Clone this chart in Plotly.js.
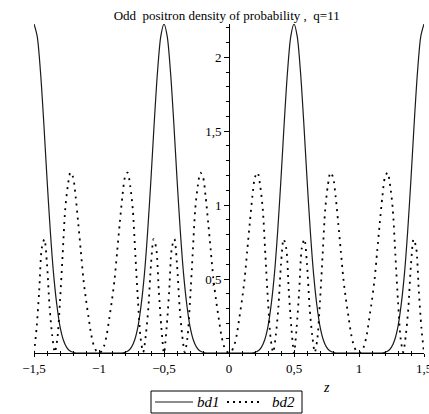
<!DOCTYPE html>
<html>
<head>
<meta charset="utf-8">
<script src="https://cdn.plot.ly/plotly-3.0.1.min.js"></script>
<style>
html,body{margin:0;padding:0;background:#fff;}
#plot{width:429px;height:414px;}
</style>
</head>
<body>
<div id="plot"></div>
<script>
// z grid: bd1 sampled every 0.025 from -1.5, bd2 every 0.02 from -1.5
var zStart = -1.5;
var bd1Step = 0.025;
var bd2Step = 0.02;

// bd1 (solid) values, z = -1.5 ... 1.5
var bd1 = [
  2.225, 2.14, 1.90, 1.56, 1.18, 0.83, 0.54, 0.33, 0.18, 0.09, 0.04, 0.015, 0.005, 0, 0, 0, 0, 0, 0, 0, 0,
  0, 0, 0, 0, 0, 0, 0, 0.005, 0.015, 0.04, 0.09, 0.18, 0.33, 0.54, 0.83, 1.18, 1.56, 1.90, 2.14, 2.225,
  2.14, 1.90, 1.56, 1.18, 0.83, 0.54, 0.33, 0.18, 0.09, 0.04, 0.015, 0.005, 0, 0, 0, 0, 0, 0, 0, 0,
  0, 0, 0, 0, 0, 0, 0, 0.005, 0.015, 0.04, 0.09, 0.18, 0.33, 0.54, 0.83, 1.18, 1.56, 1.90, 2.14, 2.225,
  2.14, 1.90, 1.56, 1.18, 0.83, 0.54, 0.33, 0.18, 0.09, 0.04, 0.015, 0.005, 0, 0, 0, 0, 0, 0, 0, 0,
  0, 0, 0, 0, 0, 0, 0, 0.005, 0.015, 0.04, 0.09, 0.18, 0.33, 0.54, 0.83, 1.18, 1.56, 1.90, 2.14, 2.225
];

// bd2 (dotted) values, z = -1.5 ... 1.5
var bd2 = [
  0, 0.17, 0.42, 0.71, 0.77, 0.60, 0.31, 0.12, 0.005, 0.10, 0.35, 0.66, 0.97, 1.13, 1.22, 1.19, 1.06, 0.88, 0.69, 0.50, 0.36, 0.24, 0.125, 0.05, 0.013, 0,
  0.013, 0.05, 0.125, 0.24, 0.36, 0.50, 0.69, 0.88, 1.06, 1.19, 1.22, 1.13, 0.97, 0.66, 0.35, 0.10, 0.005, 0.12, 0.31, 0.60, 0.77, 0.71, 0.42, 0.17, 0,
  0.17, 0.42, 0.71, 0.77, 0.60, 0.31, 0.12, 0.005, 0.10, 0.35, 0.66, 0.97, 1.13, 1.22, 1.19, 1.06, 0.88, 0.69, 0.50, 0.36, 0.24, 0.125, 0.05, 0.013, 0,
  0.013, 0.05, 0.125, 0.24, 0.36, 0.50, 0.69, 0.88, 1.06, 1.19, 1.22, 1.13, 0.97, 0.66, 0.35, 0.10, 0.005, 0.12, 0.31, 0.60, 0.77, 0.71, 0.42, 0.17, 0,
  0.17, 0.42, 0.71, 0.77, 0.60, 0.31, 0.12, 0.005, 0.10, 0.35, 0.66, 0.97, 1.13, 1.22, 1.19, 1.06, 0.88, 0.69, 0.50, 0.36, 0.24, 0.125, 0.05, 0.013, 0,
  0.013, 0.05, 0.125, 0.24, 0.36, 0.50, 0.69, 0.88, 1.06, 1.19, 1.22, 1.13, 0.97, 0.66, 0.35, 0.10, 0.005, 0.12, 0.31, 0.60, 0.77, 0.71, 0.42, 0.17, 0
];

var yTickVals = [0.5, 1, 1.5, 2];
var titleText = "Odd  positron density of probability ,  q=11";
var seriesNames = ["bd1", "bd2"];

var serif = "Liberation Serif, Times New Roman, serif";
var solidLine = {color: "#1a1a1a", width: 1.2};
var dotLine = {color: "#000", width: 1.8, dash: "2px,5px"};

var traces = [
  {
    type: "scatter", mode: "lines", name: seriesNames[0],
    x0: zStart, dx: bd1Step, y: bd1,
    line: Object.assign({shape: "spline", smoothing: 0.8}, solidLine),
    cliponaxis: false, hoverinfo: "skip"
  },
  {
    type: "scatter", mode: "lines", name: seriesNames[1],
    x0: zStart, dx: bd2Step, y: bd2,
    line: Object.assign({shape: "spline", smoothing: 0.8}, dotLine),
    cliponaxis: false, hoverinfo: "skip"
  }
];

// pixel -> paper helpers for the plot area (l=34, width 390; bottom at 353, height 329)
function px(x) { return (x - 34) / 390; }
function py(y) { return (353 - y) / 329; }

var legendShapes = [
  {type: "rect", xref: "paper", yref: "paper", x0: px(151), x1: px(302), y0: py(391), y1: py(413),
   line: {color: "#000", width: 1}, fillcolor: "#fff", layer: "above"},
  {type: "line", xref: "paper", yref: "paper", x0: px(155), x1: px(193), y0: py(402), y1: py(402),
   line: {color: solidLine.color, width: solidLine.width}, layer: "above"},
  {type: "line", xref: "paper", yref: "paper", x0: px(227), x1: px(260), y0: py(402), y1: py(402),
   line: {color: "#000", width: 1.8, dash: "2px,4px"}, layer: "above"}
];

var layout = {
  width: 429, height: 414,
  margin: {l: 34, r: 5, t: 24, b: 61, pad: 0, autoexpand: false},
  paper_bgcolor: "#fff", plot_bgcolor: "#fff",
  separators: ",.",
  font: {family: serif, size: 13, color: "#000"},
  showlegend: false,
  title: {
    text: titleText,
    font: {family: serif, size: 13, color: "#000"},
    xref: "paper", x: 0.494, xanchor: "center",
    yref: "container", y: 1 - 15/414, yanchor: "middle"
  },
  xaxis: {
    range: [-1.5, 1.5], showgrid: false, zeroline: false,
    showline: true, linecolor: "#000", linewidth: 1,
    tickmode: "linear", tick0: 0, dtick: 0.5,
    ticks: "outside", ticklen: 3, tickcolor: "#000", tickwidth: 1,
    minor: {dtick: 0.1, tick0: 0, ticks: "outside", ticklen: 2, tickcolor: "#000", showgrid: false},
    tickfont: {family: serif, size: 13, color: "#000"},
    ticklabeloverflow: "allow",
    automargin: false, fixedrange: true
  },
  xaxis2: {
    overlaying: "x", anchor: "y", side: "bottom",
    range: [-1.5, 1.5], showgrid: false, zeroline: false, showline: false,
    tickmode: "linear", tick0: 0, dtick: 0.5,
    ticks: "inside", ticklen: 3, tickcolor: "#000", tickwidth: 1,
    minor: {dtick: 0.1, tick0: 0, ticks: "inside", ticklen: 2, tickcolor: "#000", showgrid: false},
    showticklabels: false, automargin: false, fixedrange: true
  },
  yaxis: {
    range: [0, 2.225], showgrid: false, zeroline: false,
    anchor: "free", position: 0.5,
    showline: true, linecolor: "#000", linewidth: 1,
    tickmode: "array", tickvals: yTickVals,
    ticks: "outside", ticklen: 5, tickcolor: "#000", tickwidth: 1,
    minor: {dtick: 0.1, tick0: 0, ticks: "outside", ticklen: 3, tickcolor: "#000", showgrid: false},
    tickfont: {family: serif, size: 13, color: "#000"},
    automargin: false, fixedrange: true
  },
  shapes: legendShapes,
  annotations: [
    {
      text: "z", xref: "paper", yref: "paper",
      x: px(326), y: py(387),
      xanchor: "center", yanchor: "middle", showarrow: false,
      font: {family: serif, size: 14, color: "#000", style: "italic"}
    },
    {
      text: seriesNames[0], xref: "paper", yref: "paper",
      x: px(195), y: py(402), xanchor: "left", yanchor: "middle", showarrow: false,
      font: {family: serif, size: 15, color: "#000", style: "italic"}
    },
    {
      text: seriesNames[1], xref: "paper", yref: "paper",
      x: px(270), y: py(402), xanchor: "left", yanchor: "middle", showarrow: false,
      font: {family: serif, size: 15, color: "#000", style: "italic"}
    }
  ]
};

// invisible trace so xaxis2 (inner tick marks) is drawn
traces.push({type: "scatter", mode: "lines", x: [zStart], y: [0], xaxis: "x2", yaxis: "y",
  showlegend: false, hoverinfo: "skip", line: {width: 0}});

Plotly.newPlot("plot", traces, layout, {staticPlot: true, displayModeBar: false});
</script>
</body>
</html>
